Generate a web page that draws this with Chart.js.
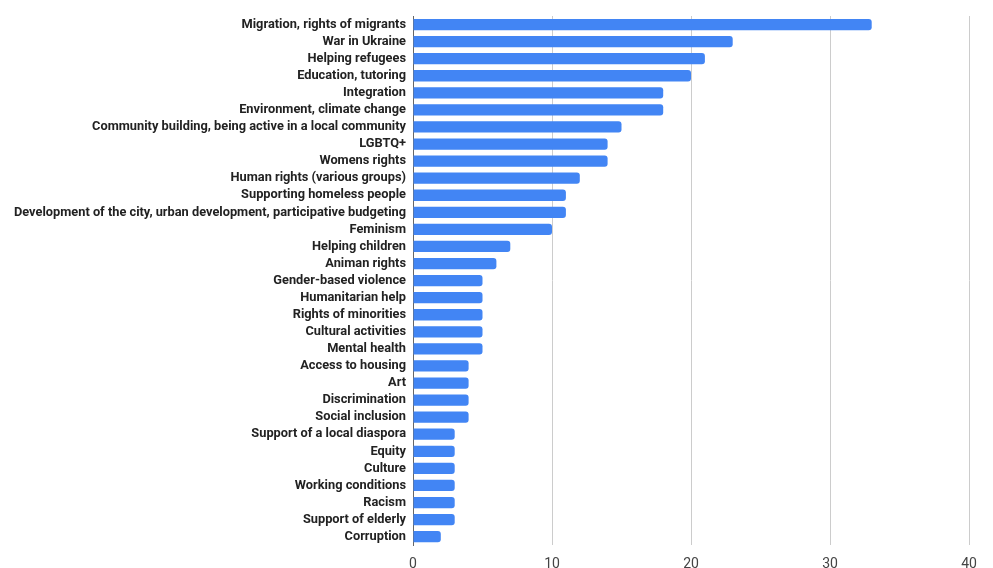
<!DOCTYPE html>
<html>
<head>
<meta charset="utf-8">
<script src="https://cdn.jsdelivr.net/npm/chart.js@4"></script>
<style>
  html, body { margin: 0; padding: 0; background: #fff; overflow: hidden; }
  #wrap { width: 993px; height: 584px; position: relative; }
</style>
</head>
<body>
<div id="wrap"><canvas id="myChart"></canvas></div>
<script>
// topics and how many times each was mentioned
var topics = [
  "Migration, rights of migrants",
  "War in Ukraine",
  "Helping refugees",
  "Education, tutoring",
  "Integration",
  "Environment, climate change",
  "Community building, being active in a local community",
  "LGBTQ+",
  "Womens rights",
  "Human rights (various groups)",
  "Supporting homeless people",
  "Development of the city, urban development, participative budgeting",
  "Feminism",
  "Helping children",
  "Animan rights",
  "Gender-based violence",
  "Humanitarian help",
  "Rights of minorities",
  "Cultural activities",
  "Mental health",
  "Access to housing",
  "Art",
  "Discrimination",
  "Social inclusion",
  "Support of a local diaspora",
  "Equity",
  "Culture",
  "Working conditions",
  "Racism",
  "Support of elderly",
  "Corruption",
];
var counts = [33, 23, 21, 20, 18, 18, 15, 14, 14, 12, 11, 11, 10, 7, 6, 5, 5, 5, 5, 5, 4, 4, 4, 4, 3, 3, 3, 3, 3, 3, 2];
var xTicks = [0, 10, 20, 30, 40];

var ctx = document.getElementById("myChart").getContext("2d");
var myChart = new Chart(ctx, {
  type: "bar",
  data: {
    labels: topics,
    datasets: [
      {
        data: counts,
        backgroundColor: "#4285f4",
        borderRadius: 3,
        borderSkipped: "start",
        barPercentage: 0.66,
        categoryPercentage: 1,
      },
    ],
  },
  options: {
    indexAxis: "y",
    responsive: true,
    maintainAspectRatio: false,
    animation: false,
    layout: { padding: { top: 16, right: 24, bottom: 0, left: 0 } },
    plugins: {
      legend: { display: false },
      tooltip: { enabled: false },
    },
    scales: {
      x: {
        min: 0,
        max: 40,
        afterBuildTicks: function (axis) {
          axis.ticks = xTicks.map(function (v) { return { value: v }; });
        },
        grid: { color: "#cccccc", lineWidth: 1, drawTicks: false },
        border: { display: false },
        ticks: {
          padding: 11,
          color: "#444444",
          font: { family: "Roboto", size: 14 },
        },
      },
      y: {
        afterFit: function (axis) { axis.width = 413; },
        grid: { display: false, drawTicks: false },
        border: { display: true, color: "#666666", width: 1 },
        ticks: {
          padding: 7,
          autoSkip: false,
          color: "#222222",
          font: { family: "Roboto", size: 12.8, weight: "bold" },
        },
      },
    },
  },
});
</script>
</body>
</html>
